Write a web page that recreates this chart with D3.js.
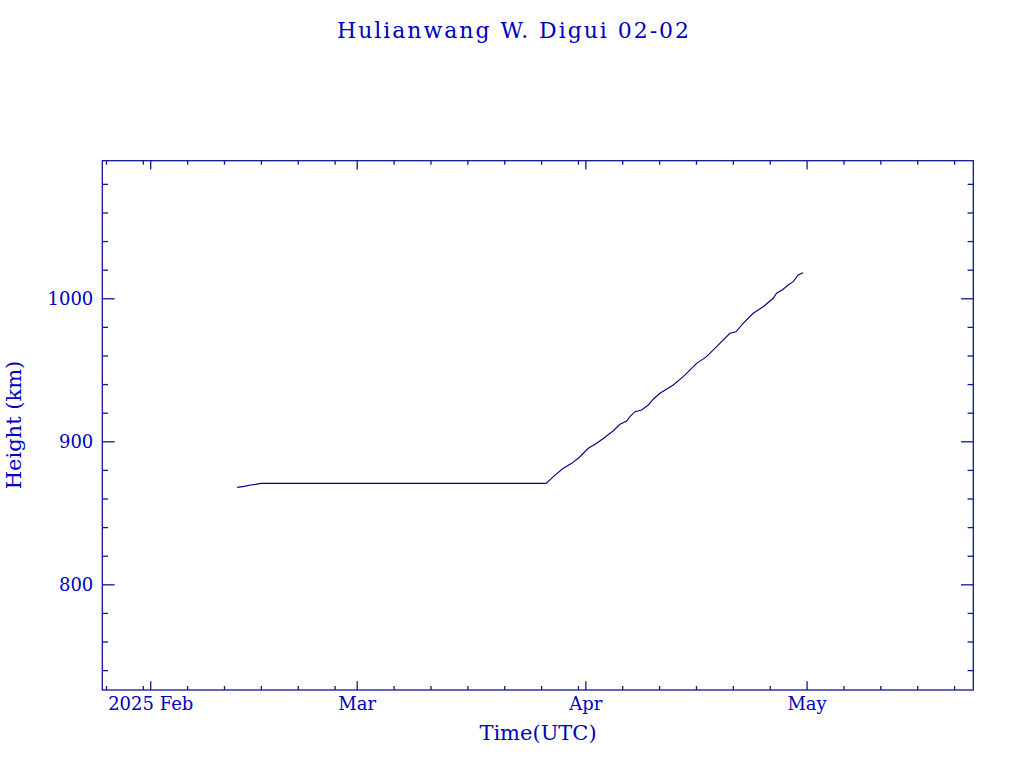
<!DOCTYPE html>
<html>
<head>
<meta charset="utf-8">
<script src="https://cdn.jsdelivr.net/npm/d3@7"></script>
<style>
  html, body { margin: 0; padding: 0; background: #ffffff; }
  svg { display: block; }
  text { font-family: "DejaVu Serif", "Liberation Serif", serif; fill: #0000c0; }
</style>
</head>
<body>
<script>
// ---- data ----
const titleText = "Hulianwang W. Digui 02-02";
const xAxisTitle = "Time(UTC)";
const yAxisTitle = "Height (km)";
const times = [
  "2025-02-12T19:00", "2025-02-13T17:45", "2025-02-14T14:10", "2025-02-15T06:30",
  "2025-02-16T01:00", "2025-03-26T16:00", "2025-03-27T21:20", "2025-03-29T00:15",
  "2025-03-30T03:35", "2025-03-31T06:30", "2025-04-01T09:35", "2025-04-02T13:00",
  "2025-04-03T15:50", "2025-04-04T19:00", "2025-04-05T16:35", "2025-04-06T14:25",
  "2025-04-07T01:10", "2025-04-07T17:30", "2025-04-08T15:05", "2025-04-09T12:45",
  "2025-04-10T05:00", "2025-04-11T02:50", "2025-04-12T22:05", "2025-04-14T06:30",
  "2025-04-16T02:10", "2025-04-17T10:35", "2025-04-18T19:10", "2025-04-20T14:25",
  "2025-04-21T09:50", "2025-04-22T09:35", "2025-04-23T18:15", "2025-04-25T02:40",
  "2025-04-26T11:15", "2025-04-26T22:20", "2025-04-27T19:40", "2025-04-28T12:00",
  "2025-04-29T04:20", "2025-04-29T20:40", "2025-04-30T12:45"
];
const heights = [
  867.8, 868.5, 869.4, 869.9,
  870.6, 870.6, 876.4, 881.1,
  884.6, 889.2, 895.1, 898.6,
  902.8, 907.4, 911.9, 914.2,
  917.2, 920.7, 921.9, 925.4,
  929.4, 933.6, 939.4, 945.2,
  954.5, 959.2, 966.2, 975.5,
  976.6, 982.5, 989.5, 994.1,
  1000.0, 1003.5, 1006.3, 1009.3,
  1011.6, 1016.3, 1017.9
];
const xDomain = ["2025-01-25T12:00", "2025-05-23T14:30"];
const yDomain = [726.1, 1096.2];
const xMajorTicks = ["2025-02-01", "2025-03-01", "2025-04-01", "2025-05-01"];
const xMajorLabels = ["2025 Feb", "Mar", "Apr", "May"];
const xMinorDays = [6, 11, 16, 21, 26, 31]; // days of month carrying minor ticks
const yMajorTicks = [800, 900, 1000];
const yMinorStep = 20;

// ---- layout ----
const W = 1024, H = 768;
const m = { left: 102.3, right: 1024 - 973.3, top: 160.7, bottom: 768 - 690 };
const pw = W - m.left - m.right, ph = H - m.top - m.bottom;
const axisColor = "#13139c";
const lineColor = "#000080";
const textColor = "#0000c0";

const parseT = d3.utcParse("%Y-%m-%dT%H:%M");
const parseD = d3.utcParse("%Y-%m-%d");

const x = d3.scaleUtc().domain(xDomain.map(parseT)).range([0, pw]);
const y = d3.scaleLinear().domain(yDomain).range([ph, 0]);

const svg = d3.select("body").append("svg").attr("width", W).attr("height", H);

svg.append("text")
  .attr("x", 513).attr("y", 38)
  .attr("text-anchor", "middle")
  .attr("font-size", 22)
  .attr("textLength", 352).attr("lengthAdjust", "spacing")
  .text(titleText);

const g = svg.append("g").attr("transform", `translate(${m.left},${m.top})`);

const [x0, x1] = x.domain();
const xMinor = d3.utcDays(x0, x1).filter(d => xMinorDays.includes(d.getUTCDate()));
const xMajor = xMajorTicks.map(parseD);

const yMinor = d3.range(Math.ceil(yDomain[0] / yMinorStep) * yMinorStep, yDomain[1], yMinorStep)
  .filter(v => !yMajorTicks.includes(v));

function styleAxis(sel) {
  sel.select(".domain").remove();
  sel.selectAll("line").attr("stroke", axisColor).attr("stroke-width", 1.3);
  sel.selectAll("text").attr("fill", textColor).attr("font-family", '"DejaVu Serif", serif');
}

// bottom
g.append("g").attr("transform", `translate(0,${ph})`)
  .call(d3.axisBottom(x).tickValues(xMajor).tickSize(-8.7).tickPadding(7)
    .tickFormat((d, i) => xMajorLabels[i]))
  .call(styleAxis)
  .call(s => s.selectAll("text").attr("font-size", 18));
g.append("g").attr("transform", `translate(0,${ph})`)
  .call(d3.axisBottom(x).tickValues(xMinor).tickSize(-4).tickFormat(""))
  .call(styleAxis);
// top
g.append("g")
  .call(d3.axisTop(x).tickValues(xMajor).tickSize(-8.7).tickFormat(""))
  .call(styleAxis);
g.append("g")
  .call(d3.axisTop(x).tickValues(xMinor).tickSize(-4).tickFormat(""))
  .call(styleAxis);
// left
g.append("g")
  .call(d3.axisLeft(y).tickValues(yMajorTicks).tickSize(-12.3).tickPadding(9)
    .tickFormat(d3.format("d")))
  .call(styleAxis)
  .call(s => s.selectAll("text").attr("font-size", 18));
g.append("g")
  .call(d3.axisLeft(y).tickValues(yMinor).tickSize(-5.7).tickFormat(""))
  .call(styleAxis);
// right
g.append("g").attr("transform", `translate(${pw},0)`)
  .call(d3.axisRight(y).tickValues(yMajorTicks).tickSize(-12.3).tickFormat(""))
  .call(styleAxis);
g.append("g").attr("transform", `translate(${pw},0)`)
  .call(d3.axisRight(y).tickValues(yMinor).tickSize(-5.7).tickFormat(""))
  .call(styleAxis);

// frame
g.append("rect").attr("x", 0).attr("y", 0).attr("width", pw).attr("height", ph)
  .attr("fill", "none").attr("stroke", axisColor).attr("stroke-width", 1.3);

// data line
const data = times.map((t, i) => ({ t: parseT(t), h: heights[i] }));
g.append("path").datum(data)
  .attr("fill", "none").attr("stroke", lineColor).attr("stroke-width", 1.1)
  .attr("d", d3.line().x(d => x(d.t)).y(d => y(d.h)));

// axis titles
svg.append("text")
  .attr("x", 538).attr("y", 740)
  .attr("text-anchor", "middle").attr("font-size", 21)
  .text(xAxisTitle);
svg.append("text")
  .attr("transform", "translate(21,425) rotate(-90)")
  .attr("text-anchor", "middle").attr("font-size", 21)
  .text(yAxisTitle);
</script>
</body>
</html>
